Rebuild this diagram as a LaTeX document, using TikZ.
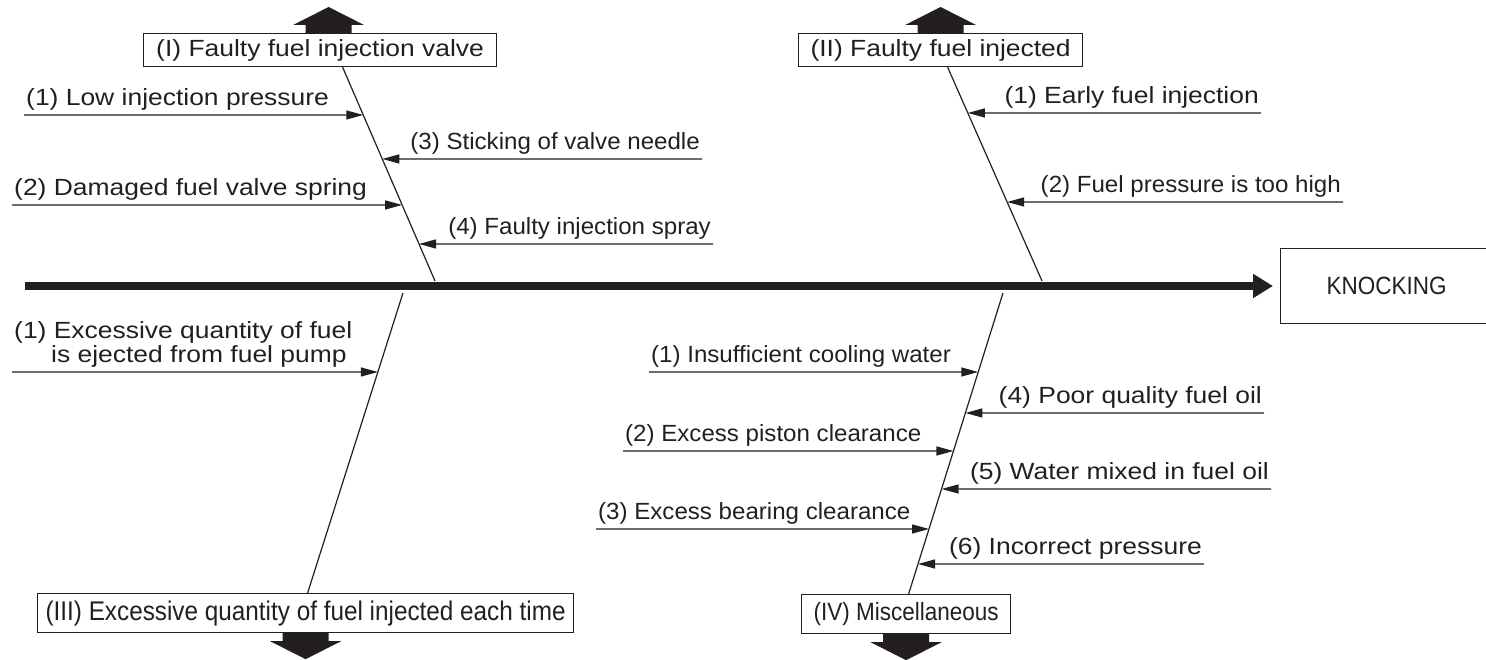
\documentclass[tikz,border=0pt]{standalone}
\usepackage{fontspec}
\setmainfont{Liberation Sans}
\newfontfamily\widesans[FakeStretch=1.13]{Liberation Sans}
\newfontfamily\midsans[FakeStretch=1.03]{Liberation Sans}
\newfontfamily\narrowsans[FakeStretch=0.9]{Liberation Sans}
\usetikzlibrary{arrows.meta}
\definecolor{ink}{HTML}{231F20}
\tikzset{
  bigtext/.style={font=\widesans\fontsize{23.4}{24}\selectfont, text=ink},
  smalltext/.style={font=\midsans\fontsize{23.4}{26}\selectfont, text=ink},
  cause/.style={inner xsep=2pt, inner ysep=4.5pt},
  branchbox/.style={draw=ink, line width=1.2pt, inner sep=0pt, anchor=north west},
  bone/.style={draw=ink, line width=1.2pt},
  feed/.style={draw=ink, line width=1.2pt, -{Triangle[length=17pt,width=9pt]}},
  spine/.style={draw=ink, line width=8pt, -{Triangle[length=20pt,width=23pt]}, shorten >=7pt},
  blockup/.pic={\fill[ink] (-23,0) -- (-23,8) -- (-35.5,8) -- (0,26) -- (35.5,8) -- (23,8) -- (23,0) -- cycle;}
}

\begin{document}
\begin{tikzpicture}[x=1pt,y=1pt]
\useasboundingbox (0,0) rectangle (1486,660);

% effect box and spine
\node[draw=ink, line width=1.2pt, minimum width=212pt, minimum height=75pt, anchor=west,
  font=\narrowsans\fontsize{25}{28}\selectfont, text=ink] (knock) at (1280,374) {KNOCKING};
\coordinate (tail) at (25,374);
\draw[spine] (tail) -- (knock.west);

% main cause boxes
\node[branchbox, bigtext, minimum width=353pt, minimum height=33pt] (fuelvalve) at (143,627) {(I) Faulty fuel injection valve};
\node[branchbox, bigtext, minimum width=284pt, minimum height=33pt] (injected) at (798,627) {(II) Faulty fuel injected};
\node[branchbox, font=\narrowsans\fontsize{27}{28}\selectfont, text=ink, minimum width=536pt, minimum height=39pt] (quantity) at (37,67) {(III) Excessive quantity of fuel injected each time};
\node[branchbox, font=\narrowsans\fontsize{25}{26}\selectfont, text=ink, minimum width=209pt, minimum height=39pt] (misc) at (801,66) {(IV) Miscellaneous};

\pic at ([xshift=8.5pt]fuelvalve.north) {blockup};
\pic at (injected.north) {blockup};
\pic[rotate=180] at (quantity.south) {blockup};
\pic[rotate=180] at (misc.south) {blockup};

% bones
\coordinate (b1-top) at ([xshift=22.5pt]fuelvalve.south);
\coordinate (b1-bot) at (435,379);
\coordinate (b2-top) at ([xshift=7pt]injected.south);
\coordinate (b2-bot) at (1042,379);
\coordinate (b3-top) at (403,367);
\coordinate (b3-bot) at ([xshift=2pt]quantity.north);
\coordinate (b4-top) at (1003,367);
\coordinate (b4-bot) at ([xshift=2.5pt]misc.north);
\foreach \bone in {b1,b2,b3,b4}
  \draw[bone] (\bone-top) -- (\bone-bot);

% sub causes
\node[cause, bigtext, anchor=south west] (lowp) at (24,545) {(1) Low injection pressure};
\node[cause, bigtext, anchor=south west] (spring) at (12,455) {(2) Damaged fuel valve spring};
\node[cause, smalltext, anchor=south east] (needle) at (702,501) {(3) Sticking of valve needle};
\node[cause, smalltext, anchor=south east] (spray) at (713,416) {(4) Faulty injection spray};

\node[cause, bigtext, anchor=south east] (early) at (1261,547) {(1) Early fuel injection};
\node[cause, smalltext, anchor=south east] (toohigh) at (1343,458) {(2) Fuel pressure is too high};

\node[cause, bigtext, anchor=south west, align=left] (excess) at (12,288)
  {(1) Excessive quantity of fuel\\\hspace*{37pt}is ejected from fuel pump};

\node[cause, smalltext, anchor=south west] (cooling) at (649,288) {(1) Insufficient cooling water};
\node[cause, smalltext, anchor=south west] (piston) at (623,209) {(2) Excess piston clearance};
\node[cause, smalltext, anchor=south west] (bearing) at (596,131) {(3) Excess bearing clearance};
\node[cause, bigtext, anchor=south east] (poorfuel) at (1264,247) {(4) Poor quality fuel oil};
\node[cause, bigtext, anchor=south east] (water) at (1271,171) {(5) Water mixed in fuel oil};
\node[cause, bigtext, anchor=south east] (pressure) at (1204,96) {(6) Incorrect pressure};

\foreach \src/\bone in {lowp/b1, spring/b1, excess/b3, cooling/b4, piston/b4, bearing/b4}
  \draw[feed] (\src.south west) -- (intersection of \src.south west--\src.south east and \bone-top--\bone-bot);
\foreach \src/\bone in {needle/b1, spray/b1, early/b2, toohigh/b2, poorfuel/b4, water/b4, pressure/b4}
  \draw[feed] (\src.south east) -- (intersection of \src.south east--\src.south west and \bone-top--\bone-bot);

\end{tikzpicture}
\end{document}
